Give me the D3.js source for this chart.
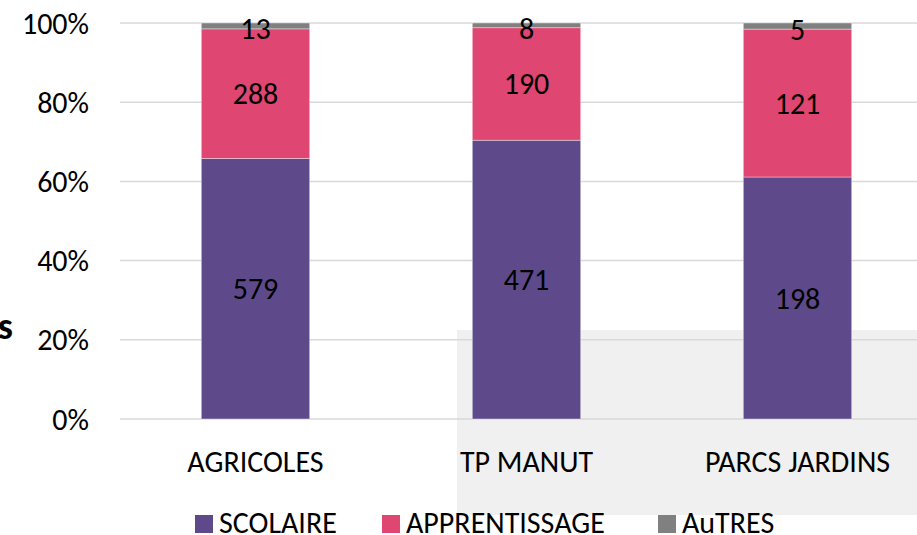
<!DOCTYPE html>
<html>
<head>
<meta charset="utf-8">
<script src="https://cdn.jsdelivr.net/npm/d3@7"></script>
<style>
  body { margin: 0; background: #fff; }
  svg text { font-family: Calibri, Carlito, "Open Sans", "Liberation Sans", sans-serif; fill: #000; }
</style>
</head>
<body>
<div id="chart"></div>
<script>
// categories and series (counts, shown as 100% stack)
var categories = ["AGRICOLES", "TP MANUT", "PARCS JARDINS"];
var seriesNames = ["SCOLAIRE", "APPRENTISSAGE", "AuTRES"];
var scolaire = [579, 471, 198];
var apprentissage = [288, 190, 121];
var autres = [13, 8, 5];
var yTicks = [0, 0.2, 0.4, 0.6, 0.8, 1];

var width = 917, height = 535;
var colors = ["#5E4A8B", "#DF4672", "#808080"];
var fontSize = "30px";

var svg = d3.select("#chart").append("svg")
    .attr("width", width)
    .attr("height", height);

// grey panel behind lower right
svg.append("rect")
    .attr("x", 457).attr("y", 330)
    .attr("width", 460).attr("height", 185)
    .attr("fill", "#f0f0f0");

var x = d3.scaleBand()
    .domain(categories)
    .range([120, 933])
    .paddingInner(0.6)
    .paddingOuter(0.3);

var y = d3.scaleLinear()
    .domain([0, 1])
    .range([419, 23]);

// gridlines
svg.append("g").selectAll("line")
    .data(yTicks)
    .enter().append("line")
    .attr("x1", 120).attr("x2", width)
    .attr("y1", function (d) { return y(d); })
    .attr("y2", function (d) { return y(d); })
    .attr("stroke", "#d9d9d9")
    .attr("stroke-width", 1.5);

// y tick labels
svg.append("g").selectAll("text")
    .data(yTicks)
    .enter().append("text")
    .attr("x", 89)
    .attr("y", function (d) { return y(d); })
    .attr("dy", "0.35em")
    .attr("text-anchor", "end")
    .style("font-size", fontSize)
    .text(function (d) { return Math.round(d * 100) + "%"; });

// build table for stack
var table = categories.map(function (c, i) {
    var tot = scolaire[i] + apprentissage[i] + autres[i];
    return { cat: c, SCOLAIRE: scolaire[i] / tot, APPRENTISSAGE: apprentissage[i] / tot, AuTRES: autres[i] / tot,
             raw: [scolaire[i], apprentissage[i], autres[i]] };
});

var stack = d3.stack().keys(seriesNames)(table);

var layers = svg.append("g").selectAll("g")
    .data(stack)
    .enter().append("g")
    .attr("fill", function (d, i) { return colors[i]; });

layers.selectAll("rect")
    .data(function (d) { return d; })
    .enter().append("rect")
    .attr("x", function (d) { return x(d.data.cat); })
    .attr("width", x.bandwidth())
    .attr("y", function (d) { return y(d[1]); })
    .attr("height", function (d) { return y(d[0]) - y(d[1]); })
    .attr("stroke", "#ffffff")
    .attr("stroke-opacity", 0.5)
    .attr("stroke-width", 0.75);

// value labels
layers.each(function (layer, li) {
    d3.select(this).selectAll("text")
        .data(layer)
        .enter().append("text")
        .attr("x", function (d) { return x(d.data.cat) + x.bandwidth() / 2; })
        .attr("y", function (d) { return (y(d[0]) + y(d[1])) / 2 + (li === 2 ? 3 : 0); })
        .attr("dy", "0.35em")
        .attr("text-anchor", "middle")
        .style("font-size", fontSize)
        .style("fill", "#000")
        .text(function (d) { return d.data.raw[li]; });
});

// category labels
svg.append("g").selectAll("text")
    .data(categories)
    .enter().append("text")
    .attr("x", function (d) { return x(d) + x.bandwidth() / 2; })
    .attr("y", 472)
    .attr("text-anchor", "middle")
    .style("font-size", fontSize)
    .text(function (d) { return d; });

// legend
var legendX = [195, 382, 658];
var legend = svg.append("g").selectAll("g")
    .data(seriesNames)
    .enter().append("g")
    .attr("transform", function (d, i) { return "translate(" + legendX[i] + ",0)"; });

legend.append("rect")
    .attr("x", 0).attr("y", 515)
    .attr("width", 18).attr("height", 18)
    .attr("fill", function (d, i) { return colors[i]; });

legend.append("text")
    .attr("x", 24).attr("y", 533)
    .style("font-size", fontSize)
    .text(function (d) { return d; });

// cut-off axis title fragment at left
svg.append("text")
    .attr("x", 13).attr("y", 339)
    .attr("text-anchor", "end")
    .style("font-size", "38px")
    .style("font-weight", "bold")
    .text("s");
</script>
</body>
</html>
